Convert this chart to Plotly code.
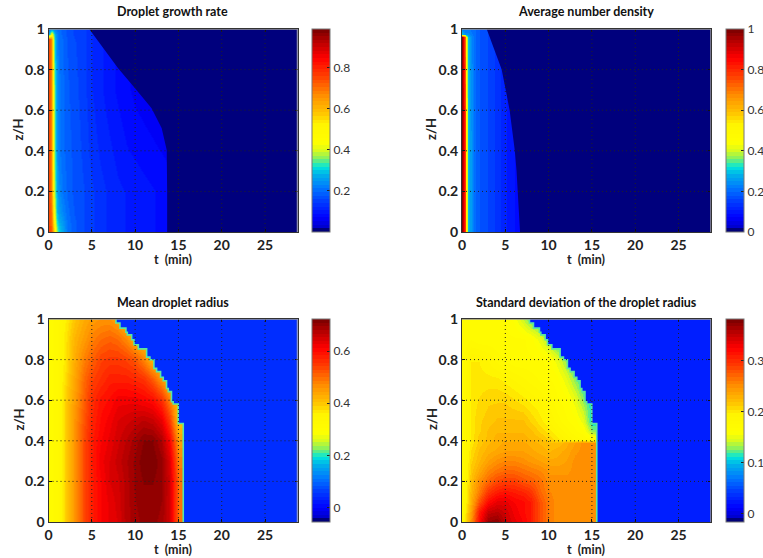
import plotly.graph_objects as go

# ---------- data ----------
growth_t = [0, .3, .5, .7, .9, 1.2, 1.6, 2.2, 3, 4, 5, 6, 7, 8, 9, 10, 11, 12, 13, 14]
growth_z = [0, .05, .1, .2, .4, .7, .95, .975, 1]
growth_v = [
 [.76,.72,.66,.52,.38,.31,.27,.21,.18,.16,.145,.13,.12,.11,.105,.10,.095,.09,.085,.08],
 [.76,.70,.62,.46,.33,.28,.25,.205,.18,.16,.145,.13,.12,.11,.105,.10,.095,.09,.085,.08],
 [.76,.69,.58,.42,.30,.26,.23,.20,.175,.16,.145,.13,.12,.11,.105,.10,.095,.09,.085,.08],
 [.76,.67,.54,.37,.28,.24,.21,.19,.17,.16,.145,.13,.12,.11,.105,.10,.095,.09,.085,.08],
 [.76,.66,.52,.34,.26,.22,.20,.185,.17,.155,.135,.12,.11,.10,.09,.085,.08,.075,.07,.065],
 [.76,.66,.52,.34,.26,.22,.20,.18,.165,.15,.125,.11,.095,.085,.075,.065,.06,.055,.05,.05],
 [.76,.66,.50,.30,.24,.21,.195,.175,.16,.15,.125,.11,.095,.085,.075,.065,.06,.055,.05,.05],
 [.25,.45,.40,.28,.23,.205,.19,.17,.155,.15,.125,.11,.095,.085,.075,.065,.06,.055,.05,.05],
 [.22,.25,.24,.22,.21,.20,.19,.17,.155,.15,.125,.11,.095,.085,.075,.065,.06,.055,.05,.05],
]
growth_front_t = [4.7, 8.06, 9.99, 11.9, 13.07, 13.65, 13.7, 13.7]
growth_front_z = [1, .806, .708, .609, .511, .404, .2, 0]

density_t = [0, .15, .35, .5, .7, 1, 1.5, 2, 3, 4, 5, 6, 7]
density_z = [0, .5, .96, .975, 1]
density_v = [
 [.97,.92,.78,.50,.30,.25,.20,.18,.16,.135,.11,.09,.07],
 [.97,.92,.78,.50,.30,.25,.20,.18,.16,.135,.11,.09,.07],
 [.97,.90,.72,.46,.30,.24,.20,.18,.16,.135,.11,.09,.07],
 [.30,.28,.24,.24,.24,.22,.20,.18,.16,.135,.11,.09,.07],
 [.22,.22,.22,.22,.22,.21,.20,.18,.16,.135,.11,.09,.07],
]
density_front_t = [2.85, 3.3, 3.7, 4.58, 5.05, 5.5, 5.8, 6.1, 6.3, 6.45, 6.55, 6.7]
density_front_z = [1, .95, .9, .8, .7, .6, .5, .4, .3, .2, .1, 0]

radius_t = [0, 1, 2, 3, 4, 5, 6, 7, 8, 9, 10, 11, 12, 13, 14, 15, 16]
radius_z = [0, .1, .2, .3, .4, .5, .6, .7, .8, .9, 1]
radius_v = [
 [.31,.33,.39,.46,.53,.58,.61,.63,.64,.675,.69,.70,.70,.69,.65,.50,.50],
 [.31,.33,.39,.46,.53,.58,.61,.63,.645,.675,.695,.705,.705,.695,.65,.50,.50],
 [.31,.33,.39,.46,.53,.58,.61,.64,.65,.675,.70,.71,.71,.70,.65,.50,.50],
 [.31,.33,.39,.46,.53,.58,.62,.64,.66,.68,.70,.72,.72,.70,.64,.48,.48],
 [.31,.33,.39,.46,.53,.58,.61,.63,.65,.67,.69,.71,.71,.68,.61,.45,.45],
 [.31,.33,.39,.46,.52,.57,.60,.62,.64,.65,.66,.67,.66,.63,.55,.40,.40],
 [.31,.33,.39,.45,.51,.56,.59,.60,.62,.62,.62,.61,.60,.56,.48,.40,.40],
 [.31,.33,.38,.44,.50,.54,.56,.58,.58,.58,.57,.56,.52,.46,.40,.40,.40],
 [.31,.33,.37,.43,.48,.51,.54,.55,.55,.54,.52,.48,.42,.40,.40,.40,.40],
 [.31,.33,.37,.42,.45,.48,.50,.51,.50,.47,.42,.40,.40,.40,.40,.40,.40],
 [.31,.33,.36,.40,.43,.45,.46,.46,.44,.40,.40,.40,.40,.40,.40,.40,.40],
]
radius_front_t = [7.79,8.25,8.94,9.1,9.6,9.87,10.37,11.33,11.71,12.17,12.48,12.94,13.25,13.63,13.83,14.2,14.4,14.98,15.56,15.56]
radius_front_z = [1,.98,.955,.935,.922,.898,.873,.853,.812,.799,.757,.741,.713,.696,.658,.642,.592,.581,.485,0]

spread_t = [0, 1, 2, 3, 4, 5, 6, 7, 8, 9, 10, 11, 12, 13, 14, 15, 16]
spread_z = [0, .05, .1, .15, .2, .25, .3, .35, .39, .41, .45, .5, .6, .7, .8, .9, 1]
spread_v = [
 [.175,.25,.32,.37,.375,.35,.335,.325,.31,.28,.26,.25,.25,.25,.25,.25,.25],
 [.175,.24,.31,.35,.355,.345,.33,.32,.31,.28,.26,.25,.25,.25,.25,.25,.25],
 [.17,.23,.28,.32,.335,.335,.325,.32,.31,.28,.26,.25,.25,.25,.25,.25,.25],
 [.17,.225,.26,.295,.31,.315,.31,.305,.295,.27,.255,.25,.25,.25,.25,.25,.25],
 [.17,.22,.25,.27,.285,.29,.29,.28,.275,.265,.25,.25,.25,.25,.25,.25,.25],
 [.17,.215,.235,.255,.265,.27,.27,.265,.26,.255,.245,.245,.245,.25,.25,.25,.25],
 [.17,.21,.225,.24,.25,.255,.255,.25,.245,.24,.235,.235,.24,.25,.25,.25,.25],
 [.17,.205,.22,.23,.235,.24,.24,.24,.235,.23,.225,.23,.235,.245,.25,.25,.25],
 [.17,.20,.215,.225,.23,.235,.235,.235,.23,.225,.22,.22,.23,.24,.25,.25,.25],
 [.17,.20,.215,.22,.23,.23,.23,.23,.225,.22,.21,.20,.19,.18,.175,.17,.17],
 [.17,.20,.21,.22,.225,.225,.225,.225,.22,.21,.20,.19,.18,.17,.165,.13,.13],
 [.17,.20,.21,.215,.22,.22,.22,.22,.21,.20,.19,.18,.17,.165,.15,.11,.11],
 [.17,.20,.205,.21,.21,.21,.205,.20,.195,.19,.18,.17,.165,.15,.13,.11,.11],
 [.17,.20,.20,.20,.20,.195,.19,.185,.18,.175,.17,.165,.15,.13,.11,.11,.11],
 [.17,.197,.197,.19,.18,.175,.17,.17,.17,.17,.165,.15,.13,.11,.11,.11,.11],
 [.17,.175,.17,.17,.17,.17,.17,.17,.165,.15,.13,.11,.11,.11,.11,.11,.11],
 [.17,.17,.17,.17,.17,.17,.16,.14,.12,.11,.11,.11,.11,.11,.11,.11,.11],
]
spread_front_t = radius_front_t
spread_front_z = radius_front_z

x_ticks = [0, 5, 10, 15, 20, 25]
y_ticks = [0, .2, .4, .6, .8, 1]
y_labels = ["0", "0.2", "0.4", "0.6", "0.8", "1"]
titles = ["Droplet growth rate", "Average number density", "Mean droplet radius",
          "Standard deviation of the droplet radius"]

# ---------- style ----------
W, H = 763, 558
FONT = "Lato"
T_MAX = 28.75
anchors = [(0,(0,0,120)),(.016,(0,0,120)),(.02,(0,0,200)),(.07,(0,0,255)),(.15,(0,60,255)),
           (.216,(0,120,255)),(.28,(0,175,235)),(.32,(0,230,220)),(.36,(130,240,100)),
           (.40,(215,250,30)),(.44,(255,255,0)),(.53,(255,245,0)),(.58,(255,200,0)),
           (.675,(255,140,0)),(.77,(255,60,0)),(.855,(255,0,0)),(.94,(180,0,0)),(1,(120,0,0))]

def cmap(f):
    for (a, ca), (b, cb) in zip(anchors, anchors[1:]):
        if f <= b:
            k = (f - a) / (b - a)
            return "rgb(%d,%d,%d)" % tuple(round(p + k * (q - p)) for p, q in zip(ca, cb))
    return "rgb(120,0,0)"

N = 56
scale = []
for i in range(N):
    c = cmap((i + .5) / N)
    scale += [[i / N, c], [(i + 1) / N, c]]

panels = [
 dict(t=growth_t, z=growth_z, v=growth_v, ft=growth_front_t, fz=growth_front_z, lim=(0, .99),
      cb=[.2,.4,.6,.8], cbt=["0.2","0.4","0.6","0.8"], bg="rgb(0,0,125)", edge=None, px=48.5, py=29),
 dict(t=density_t, z=density_z, v=density_v, ft=density_front_t, fz=density_front_z, lim=(0, 1),
      cb=[0,.2,.4,.6,.8,1], cbt=["0","0.2","0.4","0.6","0.8","1"], bg="rgb(0,0,125)", edge=None, px=462, py=29),
 dict(t=radius_t, z=radius_z, v=radius_v, ft=radius_front_t, fz=radius_front_z, lim=(-.055, .723),
      cb=[0,.2,.4,.6], cbt=["0","0.2","0.4","0.6"], bg="rgb(0,45,255)", edge="rgb(90,230,160)", px=48.5, py=319),
 dict(t=spread_t, z=spread_z, v=spread_v, ft=spread_front_t, fz=spread_front_z, lim=(-.016, .382),
      cb=[0,.1,.2,.3], cbt=["0","0.1","0.2","0.3"], bg="rgb(0,30,255)", edge="rgb(90,230,160)", px=462, py=319),
]
PW, PH = 249, 203

fig = go.Figure()
layout = dict(width=W, height=H, autosize=False, margin=dict(l=0, r=0, t=0, b=0, autoexpand=False),
              paper_bgcolor="white", plot_bgcolor="white", showlegend=False,
              font=dict(family=FONT, color="#222"))
shapes, notes = [], []
for i, p in enumerate(panels, 1):
    xa, ya = ("x%d" % i).replace("x1", "x"), ("y%d" % i).replace("y1", "y")
    dom_x = [p["px"] / W, (p["px"] + PW) / W]
    dom_y = [1 - (p["py"] + PH) / H, 1 - p["py"] / H]
    fig.add_trace(go.Heatmap(
        x=p["t"], y=p["z"], z=p["v"], zmin=p["lim"][0], zmax=p["lim"][1], colorscale=scale,
        zsmooth="best", xaxis=xa, yaxis=ya,
        colorbar=dict(x=(p["px"] + PW + 14.5) / W, xanchor="left", xpad=0, ypad=0,
                      y=dom_y[0], yanchor="bottom", len=PH / H, lenmode="fraction",
                      thickness=18, thicknessmode="pixels", outlinewidth=1, outlinecolor="#777",
                      ticks="inside", ticklen=3, tickcolor="#222", tickvals=p["cb"], ticktext=p["cbt"],
                      tickfont=dict(family=FONT, size=12, color="#333"))))
    fig.add_trace(go.Scatter(x=p["ft"] + [29, 29], y=p["fz"] + [0, 1], mode="lines", fill="toself",
                             fillcolor=p["bg"], line=dict(width=0, shape="vh" if p["edge"] else "linear"),
                             hoverinfo="skip", xaxis=xa, yaxis=ya))
    if p["edge"]:
        fig.add_trace(go.Scatter(x=p["ft"], y=p["fz"], mode="lines",
                                 line=dict(width=1.6, color=p["edge"], shape="vh"),
                                 hoverinfo="skip", xaxis=xa, yaxis=ya))
    axis = dict(showgrid=False, zeroline=False, ticks="inside", ticklen=3, tickcolor="#111",
                showline=True, linecolor="#333", linewidth=1, mirror="ticks",
                tickfont=dict(family=FONT, size=14, color="#222", weight="bold"))
    layout[("xaxis%d" % i).replace("xaxis1", "xaxis")] = dict(
        axis, domain=dom_x, range=[0, T_MAX], tickvals=x_ticks, ticktext=[str(v) for v in x_ticks],
        anchor=ya)
    layout[("yaxis%d" % i).replace("yaxis1", "yaxis")] = dict(
        axis, domain=dom_y, range=[0, 1], tickvals=y_ticks, ticktext=y_labels, anchor=xa)
    for v in x_ticks[1:]:
        shapes.append(dict(type="line", xref=xa, yref=ya, x0=v, x1=v, y0=0, y1=1, layer="above",
                           line=dict(color="#222", width=1, dash="1px,3px")))
    for v in y_ticks[1:-1]:
        shapes.append(dict(type="line", xref=xa, yref=ya, x0=0, x1=T_MAX, y0=v, y1=v, layer="above",
                           line=dict(color="#222", width=1, dash="1px,3px")))
    for a in (dict(x0=0, x1=T_MAX, y0=1, y1=1), dict(x0=T_MAX, x1=T_MAX, y0=0, y1=1)):
        shapes.append(dict(type="line", xref=xa, yref=ya, layer="above",
                           line=dict(color="#999", width=1.5), **a))
    cx = (p["px"] + PW / 2 - .5) / W
    common = dict(xref="paper", yref="paper", showarrow=False, xanchor="center", yanchor="middle")
    notes.append(dict(text="<b>%s</b>" % titles[i - 1], x=cx, y=1 - (p["py"] - 17) / H,
                      font=dict(size=12.5, color="#111", family=FONT), **common))
    notes.append(dict(text="<b>t  (min)</b>", x=cx, y=1 - (p["py"] + PH + 27.5) / H,
                      font=dict(size=12.5, color="#222", family=FONT), borderpad=0, **common))
    notes.append(dict(text="<b>z/H</b>", x=(p["px"] - 30.5) / W, y=1 - (p["py"] + PH / 2 - 1) / H,
                      textangle=-90, font=dict(size=13, color="#222", family=FONT), **common))
layout["shapes"] = shapes
layout["annotations"] = notes
fig.update_layout(**layout)
fig.write_html("out.html", config=dict(displayModeBar=False),
               post_script="document.body.style.margin='0';document.body.style.overflow='hidden';")
